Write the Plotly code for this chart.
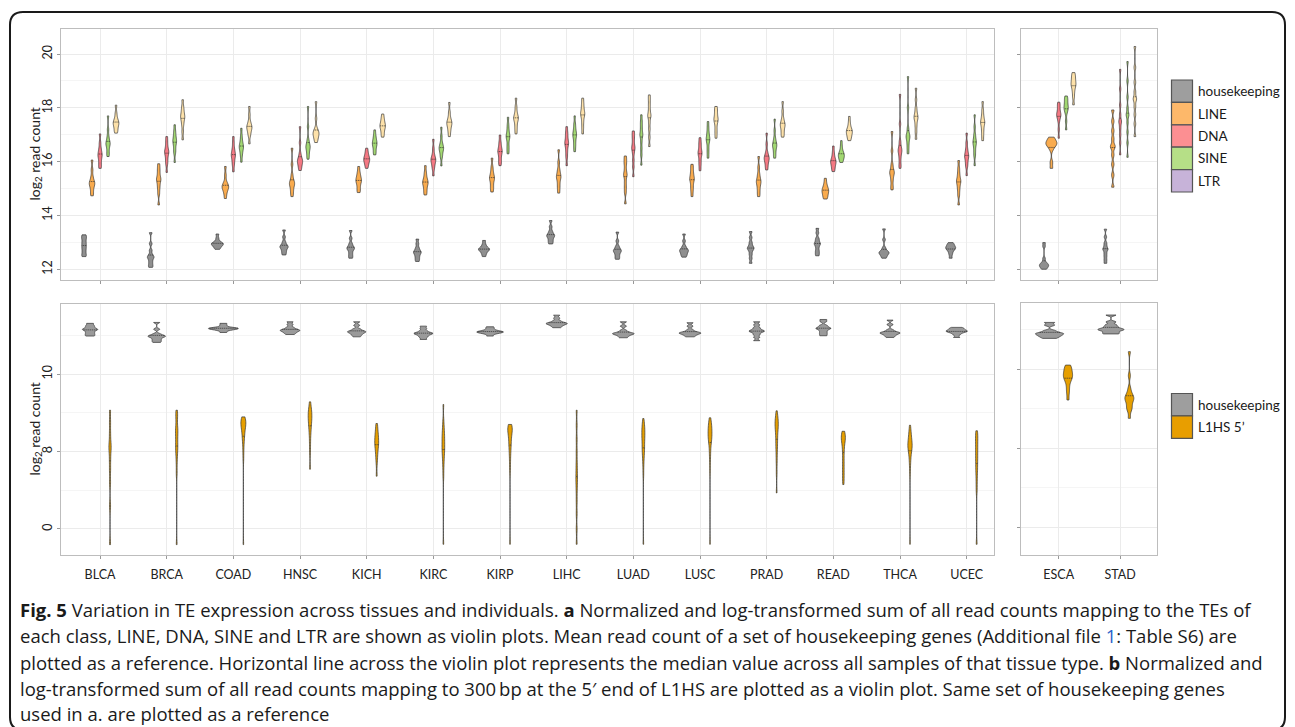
import plotly.graph_objects as go

W, H = 1295, 727

tissues_main = ["BLCA", "BRCA", "COAD", "HNSC", "KICH", "KIRC", "KIRP",
                "LIHC", "LUAD", "LUSC", "PRAD", "READ", "THCA", "UCEC"]
tissues_side = ["ESCA", "STAD"]

# ---- panel a: log2 read count samples per tissue (14 main tissues, then ESCA, STAD)
hk_a = [
    [12.47, 12.55, 12.65, 12.75, 12.84, 12.93, 13.02, 13.12, 13.2, 13.28],
    [12.07, 12.15, 12.25, 12.35, 12.45, 12.45, 12.55, 12.7, 12.95, 13.36],
    [12.74, 12.8, 12.86, 12.9, 12.94, 12.94, 12.98, 13.02, 13.15, 13.31],
    [12.53, 12.62, 12.7, 12.78, 12.84, 12.84, 12.92, 13.02, 13.2, 13.46],
    [12.41, 12.5, 12.6, 12.7, 12.78, 12.78, 12.86, 12.96, 13.15, 13.44],
    [12.29, 12.38, 12.47, 12.55, 12.63, 12.63, 12.71, 12.8, 12.95, 13.12],
    [12.47, 12.57, 12.64, 12.7, 12.74, 12.74, 12.78, 12.84, 12.93, 13.07],
    [12.94, 13.02, 13.1, 13.18, 13.25, 13.25, 13.33, 13.42, 13.58, 13.81],
    [12.37, 12.45, 12.54, 12.62, 12.69, 12.69, 12.77, 12.86, 13.05, 13.38],
    [12.45, 12.52, 12.58, 12.64, 12.7, 12.7, 12.77, 12.86, 13.05, 13.31],
    [12.22, 12.4, 12.55, 12.68, 12.78, 12.78, 12.88, 13.0, 13.18, 13.4],
    [12.5, 12.6, 12.7, 12.82, 12.94, 12.94, 13.05, 13.15, 13.35, 13.52],
    [12.41, 12.48, 12.54, 12.59, 12.63, 12.63, 12.7, 12.8, 13.1, 13.5],
    [12.41, 12.55, 12.65, 12.72, 12.78, 12.78, 12.83, 12.88, 12.93, 12.99],
    [12.0, 12.05, 12.1, 12.14, 12.16, 12.2, 12.26, 12.4, 12.85, 12.99],
    [12.22, 12.35, 12.48, 12.6, 12.74, 12.74, 12.86, 12.98, 13.2, 13.49],
]
line_a = [
    [14.73, 14.85, 15.0, 15.1, 15.2, 15.2, 15.3, 15.45, 15.7, 16.06],
    [14.39, 14.8, 15.0, 15.15, 15.32, 15.32, 15.45, 15.6, 15.75, 15.92],
    [14.63, 14.8, 14.92, 15.0, 15.07, 15.07, 15.15, 15.25, 15.5, 15.82],
    [14.7, 14.85, 14.98, 15.1, 15.2, 15.2, 15.32, 15.5, 15.9, 16.5],
    [14.85, 14.95, 15.08, 15.2, 15.3, 15.3, 15.4, 15.5, 15.62, 15.82],
    [14.76, 14.88, 15.0, 15.12, 15.22, 15.22, 15.32, 15.44, 15.6, 15.85],
    [14.87, 15.0, 15.12, 15.26, 15.38, 15.38, 15.5, 15.62, 15.8, 16.13],
    [14.83, 15.0, 15.15, 15.3, 15.44, 15.44, 15.58, 15.72, 15.98, 16.44],
    [14.43, 14.85, 15.05, 15.25, 15.5, 15.5, 15.7, 15.9, 16.05, 16.21],
    [14.7, 14.9, 15.05, 15.2, 15.35, 15.35, 15.48, 15.6, 15.75, 15.9],
    [14.7, 14.85, 15.0, 15.13, 15.26, 15.26, 15.4, 15.55, 15.8, 16.19],
    [14.61, 14.68, 14.76, 14.84, 14.92, 14.92, 15.0, 15.08, 15.2, 15.38],
    [14.95, 15.1, 15.3, 15.45, 15.59, 15.59, 15.72, 15.9, 16.4, 17.12],
    [14.39, 14.75, 14.95, 15.1, 15.26, 15.26, 15.4, 15.55, 15.75, 16.04],
    [15.75, 15.98, 16.45, 16.58, 16.64, 16.66, 16.7, 16.76, 16.84, 16.91],
    [15.05, 15.5, 15.9, 16.25, 16.56, 16.56, 16.85, 17.15, 17.5, 17.92],
]
dna_a = [
    [15.75, 15.85, 16.0, 16.12, 16.25, 16.25, 16.38, 16.5, 16.7, 17.03],
    [15.6, 15.9, 16.05, 16.2, 16.34, 16.34, 16.45, 16.58, 16.75, 16.93],
    [15.62, 15.85, 16.0, 16.12, 16.25, 16.25, 16.38, 16.5, 16.7, 16.93],
    [15.67, 15.78, 15.88, 15.96, 16.04, 16.04, 16.15, 16.3, 16.7, 17.3],
    [15.75, 15.85, 15.95, 16.02, 16.09, 16.09, 16.17, 16.26, 16.36, 16.5],
    [15.47, 15.72, 15.85, 15.96, 16.06, 16.06, 16.16, 16.28, 16.5, 16.83],
    [15.85, 15.98, 16.1, 16.24, 16.37, 16.37, 16.48, 16.6, 16.75, 16.99],
    [15.85, 16.15, 16.35, 16.52, 16.68, 16.68, 16.82, 16.96, 17.1, 17.3],
    [15.44, 15.8, 16.05, 16.3, 16.5, 16.5, 16.68, 16.85, 17.0, 17.14],
    [15.66, 15.85, 16.0, 16.16, 16.31, 16.31, 16.44, 16.58, 16.72, 16.89],
    [15.69, 15.82, 15.94, 16.04, 16.13, 16.13, 16.23, 16.36, 16.65, 17.06],
    [15.63, 15.73, 15.83, 15.92, 16.0, 16.0, 16.09, 16.2, 16.36, 16.58],
    [15.75, 15.9, 16.1, 16.26, 16.41, 16.41, 16.56, 16.75, 17.4, 18.5],
    [15.48, 15.8, 15.95, 16.08, 16.21, 16.21, 16.34, 16.48, 16.7, 17.06],
    [16.87, 17.2, 17.5, 17.65, 17.74, 17.74, 17.85, 17.98, 18.1, 18.21],
    [16.25, 16.7, 17.0, 17.25, 17.49, 17.49, 17.75, 18.1, 18.7, 19.43],
]
sine_a = [
    [16.19, 16.3, 16.45, 16.58, 16.68, 16.68, 16.8, 16.95, 17.2, 17.7],
    [15.97, 16.3, 16.45, 16.6, 16.75, 16.75, 16.88, 17.0, 17.15, 17.37],
    [15.98, 16.2, 16.35, 16.45, 16.56, 16.56, 16.68, 16.8, 16.98, 17.24],
    [16.09, 16.22, 16.35, 16.46, 16.56, 16.56, 16.68, 16.82, 17.3, 18.05],
    [16.25, 16.35, 16.48, 16.58, 16.68, 16.68, 16.78, 16.88, 17.0, 17.18],
    [15.84, 16.15, 16.28, 16.4, 16.5, 16.5, 16.6, 16.72, 16.95, 17.28],
    [16.29, 16.45, 16.6, 16.78, 16.93, 16.93, 17.06, 17.2, 17.38, 17.65],
    [16.37, 16.55, 16.7, 16.85, 16.99, 16.99, 17.12, 17.25, 17.42, 17.7],
    [15.87, 16.25, 16.5, 16.75, 16.99, 16.99, 17.18, 17.35, 17.52, 17.74],
    [16.13, 16.32, 16.5, 16.68, 16.83, 16.83, 16.97, 17.1, 17.28, 17.49],
    [16.13, 16.26, 16.4, 16.52, 16.62, 16.62, 16.74, 16.88, 17.15, 17.58],
    [15.97, 16.05, 16.12, 16.19, 16.25, 16.25, 16.32, 16.42, 16.58, 16.78],
    [16.29, 16.48, 16.65, 16.8, 16.93, 16.93, 17.06, 17.25, 18.0, 19.16],
    [15.85, 16.2, 16.38, 16.55, 16.71, 16.71, 16.86, 17.02, 17.3, 17.74],
    [17.18, 17.5, 17.8, 17.93, 17.99, 18.05, 18.15, 18.25, 18.35, 18.44],
    [16.16, 16.7, 17.1, 17.45, 17.74, 17.74, 18.0, 18.4, 19.0, 19.72],
]
ltr_a = [
    [17.06, 17.15, 17.25, 17.35, 17.43, 17.43, 17.52, 17.62, 17.8, 18.1],
    [16.81, 17.1, 17.35, 17.5, 17.65, 17.65, 17.78, 17.9, 18.05, 18.3],
    [16.66, 16.95, 17.08, 17.18, 17.28, 17.28, 17.38, 17.5, 17.75, 18.05],
    [16.71, 16.82, 16.9, 16.98, 17.06, 17.06, 17.14, 17.25, 17.6, 18.23],
    [16.91, 17.02, 17.14, 17.24, 17.33, 17.33, 17.42, 17.52, 17.62, 17.77],
    [16.93, 17.1, 17.22, 17.33, 17.43, 17.43, 17.53, 17.65, 17.85, 18.2],
    [17.03, 17.2, 17.35, 17.5, 17.61, 17.61, 17.72, 17.85, 18.05, 18.36],
    [17.03, 17.25, 17.45, 17.62, 17.77, 17.77, 17.9, 18.03, 18.18, 18.36],
    [16.56, 16.9, 17.2, 17.45, 17.7, 17.7, 17.9, 18.1, 18.3, 18.48],
    [16.87, 17.05, 17.22, 17.4, 17.55, 17.55, 17.68, 17.8, 17.93, 18.05],
    [16.91, 17.02, 17.14, 17.26, 17.37, 17.37, 17.48, 17.62, 17.88, 18.23],
    [16.78, 16.88, 16.96, 17.04, 17.12, 17.12, 17.2, 17.3, 17.46, 17.68],
    [16.83, 17.1, 17.32, 17.5, 17.65, 17.65, 17.8, 17.98, 18.3, 18.73],
    [16.78, 16.98, 17.15, 17.3, 17.45, 17.45, 17.58, 17.72, 17.92, 18.23],
    [18.11, 18.4, 18.6, 18.75, 18.85, 18.9, 19.0, 19.1, 19.2, 19.31],
    [16.93, 17.4, 17.75, 18.05, 18.33, 18.33, 18.6, 18.95, 19.5, 20.28],
]

# ---- panel b
hk_b = [
    [12.46, 12.55, 12.65, 12.75, 12.85, 12.89, 12.95, 13.05, 13.15, 13.28],
    [12.05, 12.15, 12.25, 12.35, 12.42, 12.46, 12.5, 12.6, 12.9, 13.34],
    [12.69, 12.82, 12.88, 12.92, 12.95, 12.95, 12.98, 13.02, 13.15, 13.28],
    [12.56, 12.65, 12.72, 12.78, 12.84, 12.84, 12.92, 13.02, 13.2, 13.38],
    [12.41, 12.52, 12.6, 12.67, 12.74, 12.74, 12.82, 12.92, 13.15, 13.38],
    [12.24, 12.38, 12.48, 12.56, 12.63, 12.63, 12.7, 12.8, 12.95, 13.1],
    [12.46, 12.6, 12.66, 12.7, 12.72, 12.74, 12.78, 12.84, 12.95, 13.06],
    [13.0, 13.1, 13.17, 13.23, 13.28, 13.28, 13.35, 13.45, 13.62, 13.81],
    [12.35, 12.45, 12.53, 12.58, 12.63, 12.63, 12.7, 12.82, 13.1, 13.38],
    [12.41, 12.5, 12.57, 12.62, 12.67, 12.67, 12.74, 12.86, 13.1, 13.32],
    [12.16, 12.38, 12.55, 12.68, 12.78, 12.78, 12.88, 13.0, 13.18, 13.38],
    [12.48, 12.6, 12.72, 12.84, 12.95, 12.95, 13.05, 13.15, 13.4, 13.53],
    [12.37, 12.47, 12.55, 12.61, 12.67, 12.67, 12.74, 12.85, 13.2, 13.49],
    [12.37, 12.55, 12.66, 12.72, 12.78, 12.78, 12.84, 12.9, 12.96, 13.02],
    [11.96, 12.05, 12.12, 12.18, 12.24, 12.28, 12.34, 12.45, 12.8, 12.97],
    [12.24, 12.32, 12.42, 12.5, 12.53, 12.6, 12.7, 12.82, 13.0, 13.44],
]
l1hs_b = [
    [-1.01, 1.5, 3.0, 3.8, 4.44, 5.0, 5.3, 5.6, 6.2, 6.9, 7.67],
    [-1.01, 3.6, 4.3, 4.8, 5.1, 5.34, 5.6, 5.9, 6.2, 6.4, 6.6, 7.1, 7.4, 7.67],
    [-1.01, 4.5, 5.0, 5.4, 5.7, 5.9, 6.06, 6.2, 6.35, 6.5, 6.6, 6.7, 6.75, 6.8,
     6.9, 6.95, 7.0, 7.1, 7.15, 7.24],
    [3.86, 5.0, 5.6, 6.1, 6.4, 6.66, 6.9, 7.0, 7.2, 7.35, 7.5, 7.65, 7.8, 8.21],
    [3.41, 4.3, 4.7, 5.0, 5.25, 5.45, 5.55, 5.65, 5.9, 6.05, 6.2, 6.5, 6.81],
    [-0.99, 3.4, 4.0, 4.4, 4.7, 4.95, 5.13, 5.3, 5.5, 5.7, 5.9, 6.1, 6.3, 6.6,
     7.0, 8.04],
    [-0.99, 3.8, 4.3, 4.7, 5.0, 5.25, 5.43, 5.6, 5.8, 5.95, 6.1, 6.25, 6.3, 6.4,
     6.5, 6.55, 6.6, 6.68, 6.75],
    [-0.99, 0.0, 1.0, 1.8, 2.5, 3.0, 3.36, 3.8, 4.3, 5.0, 5.8, 6.7, 7.67],
    [-0.99, 3.5, 4.1, 4.5, 4.8, 5.0, 5.19, 5.35, 5.55, 5.75, 5.95, 6.0, 6.2,
     6.35, 6.5, 6.65, 6.8, 7.13],
    [-0.99, 3.8, 4.4, 4.8, 5.1, 5.35, 5.6, 5.7, 5.8, 5.9, 6.0, 6.1, 6.2, 6.3,
     6.4, 6.5, 6.6, 6.7, 6.85, 6.95, 7.18],
    [2.33, 3.6, 4.3, 4.8, 5.2, 5.5, 5.78, 6.05, 6.35, 6.5, 6.65, 6.8, 6.95,
     7.1, 7.25, 7.63],
    [2.87, 3.3, 3.7, 4.1, 4.5, 4.94, 5.3, 5.6, 5.75, 5.9, 6.0, 6.1, 6.31],
    [-0.99, 3.6, 4.1, 4.4, 4.65, 4.85, 5.04, 5.1, 5.2, 5.3, 5.35, 5.45, 5.5,
     5.6, 5.7, 5.8, 5.95, 6.05, 6.25, 6.4, 6.7],
    [-0.99, 2.5, 3.1, 3.6, 3.95, 4.29, 4.6, 4.9, 5.2, 5.5, 5.8, 6.05, 6.34],
    [8.06, 8.5, 8.8, 9.1, 9.3, 9.43, 9.5, 9.6, 9.7, 9.8, 9.9, 10.05, 10.15, 10.27],
    [6.9, 7.4, 7.55, 7.7, 7.95, 8.05, 8.15, 8.25, 8.31, 8.5, 8.8, 9.6, 11.12],
]

y_ticks_a = [12, 14, 16, 18, 20]
y_minor_a = [13, 15, 17, 19]
y_tickvals_b = [0, 5, 10]
y_ticktext_b = ["0", "8", "10"]
y_minor_b = [2.5, 7.5, 12.5]

caption_lines = [
    "<b>Fig. 5</b> Variation in TE expression across tissues and individuals. <b>a</b> Normalized and log-transformed sum of all read counts mapping to the TEs of",
    "each class, LINE, DNA, SINE and LTR are shown as violin plots. Mean read count of a set of housekeeping genes (Additional file <span style='color:#2a62c9'>1</span>: Table S6) are",
    "plotted as a reference. Horizontal line across the violin plot represents the median value across all samples of that tissue type. <b>b</b> Normalized and",
    "log-transformed sum of all read counts mapping to 300\u2009bp at the 5\u2032 end of L1HS are plotted as a violin plot. Same set of housekeeping genes",
    "used in a. are plotted as a reference",
]

# ---------------------------------------------------------------- helpers
def px(x):
    return x / W


def py(y):
    return 1 - y / H


FONT = "Lato, 'Open Sans', sans-serif"
OUTLINE = "#333333"

fig = go.Figure()


def add_class(samples, tissues_n, start, offset, xa, ya, width, bw, color, name):
    xs, ys = [], []
    for i in range(tissues_n):
        s = samples[start + i]
        xs += [i + offset] * len(s)
        ys += s
    fig.add_trace(go.Violin(
        x=xs, y=ys, name=name, xaxis=xa, yaxis=ya,
        width=width, bandwidth=bw, spanmode="hard", points=False,
        fillcolor=color, opacity=1, line=dict(color=OUTLINE, width=0.7),
        meanline=dict(visible=True, color=OUTLINE, width=0.7),
        showlegend=False, hoverinfo="skip",
    ))


classes_a = [("housekeeping", hk_a, "#8f8f8f"), ("LINE", line_a, "#f9ab4e"),
             ("DNA", dna_a, "#f47883"), ("SINE", sine_a, "#a2d872"),
             ("LTR", ltr_a, "#fde1a9")]
offsets_a = [-0.24, -0.12, 0.0, 0.12, 0.24]
widths_a_main = [0.18, 0.10, 0.09, 0.09, 0.09]
widths_a_side = [0.15, 0.18, 0.07, 0.07, 0.08]
bw_a = [0.06, 0.1, 0.1, 0.1, 0.1]
for k, (name, data, col) in enumerate(classes_a):
    add_class(data, 14, 0, offsets_a[k], "x", "y", widths_a_main[k], bw_a[k], col, name)
    add_class(data, 2, 14, offsets_a[k], "x2", "y2", widths_a_side[k], bw_a[k], col, name)

classes_b = [("housekeeping", hk_b, "#9a9a9a"), ("L1HS 5\u2032", l1hs_b, "#e69f00")]
offsets_b = [-0.15, 0.15]
widths_b_main = [0.45, 0.075]
widths_b_side = [0.46, 0.15]
bw_b_main = [0.06, 0.3]
bw_b_side = [0.06, 0.2]
for k, (name, data, col) in enumerate(classes_b):
    add_class(data, 14, 0, offsets_b[k], "x3", "y3", widths_b_main[k], bw_b_main[k], col, name)
    add_class(data, 2, 14, offsets_b[k], "x4", "y4", widths_b_side[k], bw_b_side[k], col, name)

# ---------------------------------------------------------------- axes
base = dict(showgrid=True, gridcolor="#EBEBEB", gridwidth=1, zeroline=False,
            showline=True, linecolor="#BDBDBD", linewidth=1, mirror=True,
            ticks="outside", ticklen=3, tickcolor="#999999", tickwidth=1,
            tickfont=dict(family=FONT, size=12.5, color="#222222"),
            automargin=False, fixedrange=True)

dom_left = [px(60.7), px(994)]
dom_right = [px(1021), px(1157)]
dom_top = [py(280), py(29)]
dom_bot_l = [py(555.3), py(304)]
dom_bot_r = [py(555), py(303.3)]

fig.update_layout(
    xaxis=dict(base, domain=dom_left, anchor="y", range=[-0.59, 13.41],
               tickmode="array", tickvals=list(range(14)), ticktext=tissues_main,
               showticklabels=False),
    yaxis=dict(base, domain=dom_top, anchor="x", range=[11.6, 20.93],
               tickmode="array", tickvals=y_ticks_a, tickangle=-90,
               minor=dict(tickmode="array", tickvals=y_minor_a, showgrid=True,
                          gridcolor="#F5F5F5", ticks="")),
    xaxis2=dict(base, domain=dom_right, anchor="y2", range=[-0.615, 1.6],
                tickmode="array", tickvals=[0, 1], ticktext=tissues_side,
                showticklabels=False),
    yaxis2=dict(base, domain=dom_top, anchor="x2", range=[11.6, 20.93],
                tickmode="array", tickvals=y_ticks_a, showticklabels=False,
                minor=dict(tickmode="array", tickvals=y_minor_a, showgrid=True,
                           gridcolor="#F5F5F5", ticks="")),
    xaxis3=dict(base, domain=dom_left, anchor="y3", range=[-0.59, 13.41],
                tickmode="array", tickvals=list(range(14)), ticktext=tissues_main,
                ticklabelstandoff=5),
    yaxis3=dict(base, domain=dom_bot_l, anchor="x3", range=[-1.7, 14.53],
                tickmode="array", tickvals=y_tickvals_b, ticktext=y_ticktext_b,
                tickangle=-90,
                minor=dict(tickmode="array", tickvals=y_minor_b, showgrid=True,
                           gridcolor="#F5F5F5", ticks="")),
    xaxis4=dict(base, domain=dom_right, anchor="y4", range=[-0.615, 1.6],
                tickmode="array", tickvals=[0, 1], ticktext=tissues_side,
                ticklabelstandoff=5),
    yaxis4=dict(base, domain=dom_bot_r, anchor="x4", range=[-1.75, 14.18],
                tickmode="array", tickvals=y_tickvals_b, showticklabels=False,
                minor=dict(tickmode="array", tickvals=y_minor_b, showgrid=True,
                           gridcolor="#F5F5F5", ticks="")),
)

# ---------------------------------------------------------------- decorations
shapes = []
annotations = []

# rounded outer frame
x0, y0, x1, y1, r = 10, 12, 1285, 730, 13
pts = [("M", x0 + r, y0), ("L", x1 - r, y0), ("Q", x1, y0, x1, y0 + r),
       ("L", x1, y1 - r), ("Q", x1, y1, x1 - r, y1), ("L", x0 + r, y1),
       ("Q", x0, y1, x0, y1 - r), ("L", x0, y0 + r), ("Q", x0, y0, x0 + r, y0)]
path = ""
for p in pts:
    cmd = p[0]
    coords = p[1:]
    pairs = []
    for j in range(0, len(coords), 2):
        pairs.append(f"{px(coords[j]):.5f},{py(coords[j + 1]):.5f}")
    path += cmd + " ".join(pairs) + " "
path += "Z"
shapes.append(dict(type="path", xref="paper", yref="paper", path=path,
                   line=dict(color="#1a1a1a", width=2), fillcolor="rgba(0,0,0,0)",
                   layer="above"))

# manual legends (large square swatches)
legend_a = [("housekeeping", "#9e9e9e"), ("LINE", "#fdb86a"), ("DNA", "#fc8f92"),
            ("SINE", "#b6df87"), ("LTR", "#c7b3d9")]
legend_b = [("housekeeping", "#9e9e9e"), ("L1HS 5\u2019", "#e89e00")]


def draw_legend(items, top, step=22.4):
    for j, (lab, col) in enumerate(items):
        ya, yb = top + j * step, top + (j + 1) * step
        shapes.append(dict(type="rect", xref="paper", yref="paper",
                           x0=px(1171.5), x1=px(1192.5), y0=py(yb), y1=py(ya),
                           fillcolor=col, line=dict(color="#555555", width=1.2)))
        annotations.append(dict(xref="paper", yref="paper", x=px(1196),
                                y=py((ya + yb) / 2), text=lab, showarrow=False,
                                xanchor="left", yanchor="middle",
                                font=dict(family=FONT, size=13.5, color="#1a1a1a")))


draw_legend(legend_a, 80)
draw_legend(legend_b, 393.5)

# y axis titles
for yc in (154.5, 429.5):
    annotations.append(dict(xref="paper", yref="paper", x=px(35), y=py(yc),
                            text="log<sub>2</sub> read count", textangle=-90,
                            showarrow=False, xanchor="center", yanchor="middle",
                            font=dict(family=FONT, size=14, color="#222222")))

# caption
cap_y = [609, 635.5, 662, 688, 713.5]
for line, yc in zip(caption_lines, cap_y):
    annotations.append(dict(xref="paper", yref="paper", x=px(18), y=py(yc),
                            text=line, showarrow=False, xanchor="left",
                            yanchor="middle", align="left",
                            font=dict(family="'Open Sans', sans-serif", size=18.5,
                                      color="#1a1a1a")))

fig.update_layout(
    width=W, height=H, template="none",
    margin=dict(l=0, r=0, t=0, b=0, pad=0),
    paper_bgcolor="white", plot_bgcolor="white",
    showlegend=False, violinmode="overlay",
    font=dict(family=FONT, color="#222222"),
    shapes=shapes, annotations=annotations,
)

fig.write_html("out.html", config={"displayModeBar": False},
               post_script="document.body.style.margin='0';document.body.style.overflow='hidden';")
